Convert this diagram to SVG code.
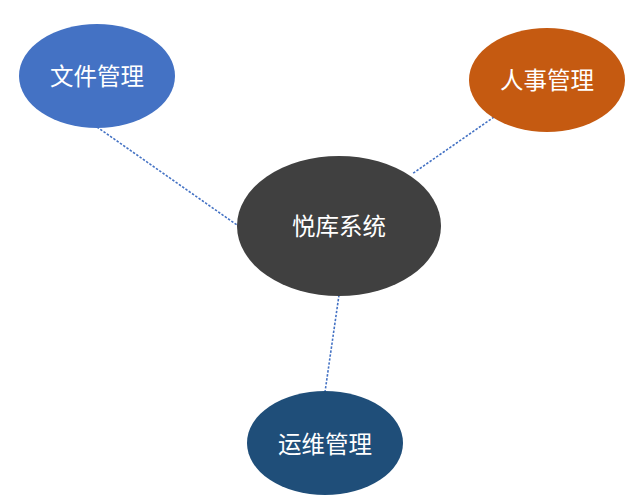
<svg xmlns="http://www.w3.org/2000/svg" width="644" height="498" viewBox="0 0 644 498">
<style>
.conn{stroke:#4472C4;stroke-width:1.6;stroke-dasharray:2.4 1.6;fill:none}
.lbl{font-family:"Noto Sans CJK SC","Noto Sans",sans-serif;font-size:23.5px;fill:#ffffff;text-anchor:middle;dominant-baseline:central}
</style>
<rect width="644" height="498" fill="#ffffff"/>
<g id="connectors">
<line class="conn" x1="97" y1="127" x2="237" y2="225"/>
<line class="conn" x1="494" y1="117" x2="412" y2="174"/>
<line class="conn" x1="339" y1="295" x2="325" y2="392"/>
</g>
<g id="node-file">
<ellipse cx="97" cy="76" rx="78" ry="52" fill="#4472C4"/>
<text class="lbl" x="97" y="75">文件管理</text>
</g>
<g id="node-hr">
<ellipse cx="547" cy="80" rx="78" ry="52" fill="#C55A11"/>
<text class="lbl" x="547" y="79">人事管理</text>
</g>
<g id="node-core">
<ellipse cx="339" cy="226" rx="102" ry="70" fill="#404040"/>
<text class="lbl" x="339" y="225">悦库系统</text>
</g>
<g id="node-ops">
<ellipse cx="325" cy="443" rx="78" ry="52" fill="#1F4E79"/>
<text class="lbl" x="325" y="443">运维管理</text>
</g>
</svg>
